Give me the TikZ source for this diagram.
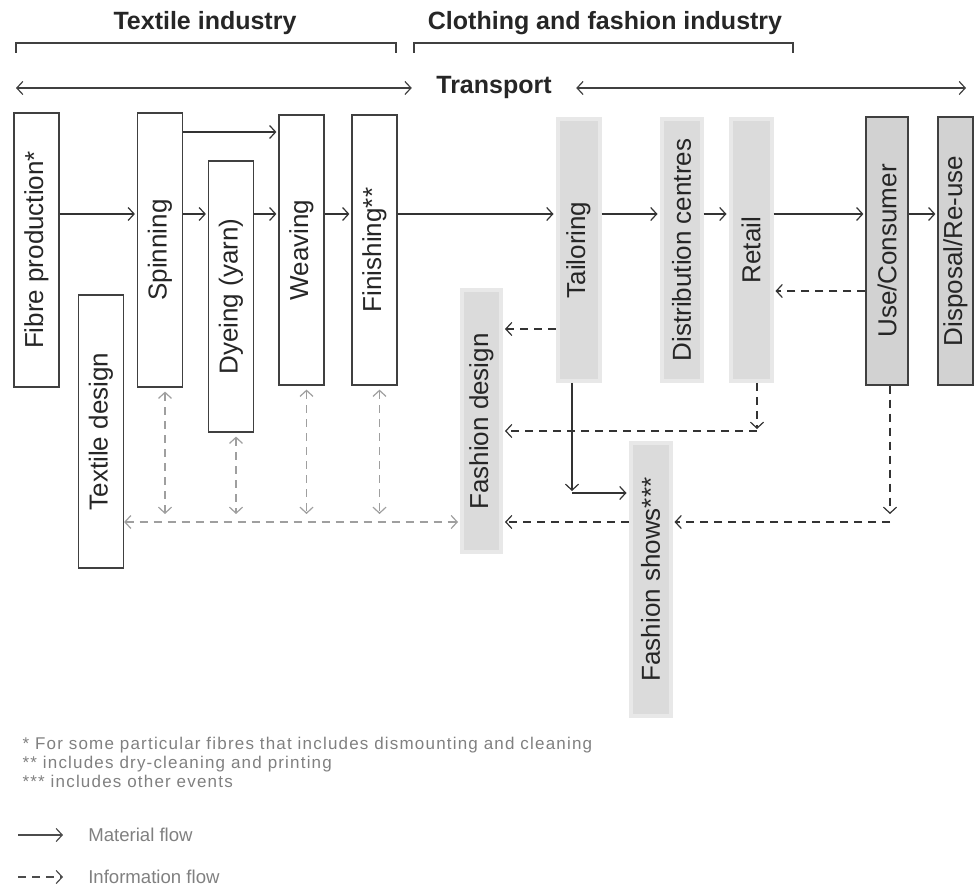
\documentclass[tikz,border=0pt]{standalone}
\usepackage{fontspec}
\setmainfont{Liberation Sans}
\newfontfamily\notefont[LetterSpace=7]{Liberation Sans}
\usetikzlibrary{arrows.meta,positioning}
\def\boxh{137pt}

\begin{document}
\begin{tikzpicture}[x=0.5pt,y=-0.5pt,line width=0.6pt,>={Straight Barb[length=3pt,width=6.5pt]}]
	\tikzstyle{stage}=[draw=black!75,fill=white,inner sep=0pt,text=black!85,font=\fontsize{13}{15}\selectfont]
	\tikzstyle{textile stage}=[stage,minimum width=22.5pt,minimum height=\boxh]
	\tikzstyle{fashion stage}=[stage,draw=gray!18,line width=2pt,fill=gray!28,minimum width=19.5pt,minimum height=131pt]
	\tikzstyle{user stage}=[stage,fill=gray!35,minimum width=21pt,minimum height=134pt]
	\tikzstyle{material}=[->,draw=black!80,shorten >=1pt]
	\tikzstyle{info}=[->,draw=black!80,dash pattern=on 4pt off 3pt,shorten >=1pt]
	\tikzstyle{info light}=[info,draw=gray!75]
	\tikzstyle{header}=[font=\bfseries\fontsize{12.5}{14}\selectfont,text=black!85]
	\tikzstyle{legend}=[anchor=west,text=gray,font=\fontsize{9.3}{11}\selectfont]

	\useasboundingbox (0,0) rectangle (974,886);

	% Industries and transport
	\node[header] (textile) at (205,23) {Textile industry};
	\node[header] (clothing) at (605,23) {Clothing and fashion industry};
	\draw[black!75] (16,53) -- (16,43) -- (396,43) -- (396,53);
	\draw[black!75] (414,53) -- (414,43) -- (793,43) -- (793,53);

	\node[header,inner xsep=12pt] (transport) at (494,88) {Transport};
	\coordinate (transL) at (16,88);
	\coordinate (transR) at (966,88);
	\draw[<->,black!75] (transL) -- (transport.west);
	\draw[<->,black!75] (transport.east) -- (transR);

	% Textile industry stages
	\node[textile stage] (fibre) at (36.5,250) {\rotatebox{90}{Fibre production*}};
	\node[textile stage,minimum height=136.5pt] (tdesign) at (101,431.5) {\rotatebox{90}{Textile design}};
	\node[textile stage] (spin) at (160,250) {\rotatebox{90}{Spinning}};
	\node[textile stage,minimum height=135.5pt] (dye) at (231,296.5) {\rotatebox{90}{Dyeing (yarn)}};
	\node[textile stage,minimum height=135pt] (weave) at (301.5,250) {\rotatebox{90}{Weaving}};
	\node[textile stage,minimum height=135pt] (finish) at (374.5,250) {\rotatebox{90}{Finishing**}};

	% Clothing and fashion stages
	\node[fashion stage] (fdesign) at (481.5,421.5) {\rotatebox{90}{Fashion design}};
	\node[fashion stage,minimum width=21pt] (tailor) at (578.5,250) {\rotatebox{90}{Tailoring}};
	\node[fashion stage,minimum width=20pt] (distrib) at (681.5,250) {\rotatebox{90}{Distribution centres}};
	\node[fashion stage,minimum width=20.5pt] (retail) at (751,250) {\rotatebox{90}{Retail}};
	\node[fashion stage,minimum width=20pt,minimum height=136pt] (fshows) at (650.5,579.5) {\rotatebox{90}{Fashion shows***}};
	\node[user stage] (consumer) at (887,251) {\rotatebox{90}{Use/Consumer}};
	\node[user stage,minimum width=17.5pt] (disposal) at (955.5,251) {\rotatebox{90}{Disposal/Re-use}};

	% Material flow
	\coordinate (mainrow) at (0,214);
	\coordinate (toprow) at (0,132);
	\foreach \from/\to in {fibre/spin,spin/dye,dye/weave,weave/finish,finish/tailor,tailor/distrib,distrib/retail,retail/consumer,consumer/disposal}
	\draw[material] (\from.east |- mainrow) -- (\to.west |- mainrow);
	\draw[material] (spin.east |- toprow) -- (weave.west |- toprow);

	\coordinate (tcorner) at (572,493);
	\draw[material] (tailor.south -| tcorner) -- (tcorner);
	\draw[material] (tcorner) -- (fshows.west |- tcorner);

	% Information flow
	\coordinate (designrow) at (0,329);
	\coordinate (userrow) at (0,291);
	\coordinate (lowrow) at (0,522);
	\draw[info] (tailor.west |- designrow) -- (fdesign.east |- designrow);
	\draw[info] (consumer.west |- userrow) -- (retail.east |- userrow);

	\coordinate (rcorner) at (757,431);
	\draw[info] (retail.south -| rcorner) -- (rcorner);
	\draw[info] (rcorner) -- (fdesign.east |- rcorner);

	\coordinate (ucorner) at (890,522);
	\draw[info,shorten >=4pt] (consumer.south -| ucorner) -- (ucorner);
	\draw[info] (ucorner) -- (fshows.east |- ucorner);
	\draw[info] (fshows.west |- lowrow) -- (fdesign.east |- lowrow);

	\draw[info light,<->] (tdesign.east |- lowrow) -- (fdesign.west |- lowrow);
	\foreach \n in {spin,dye,weave,finish}
	\draw[info light,<->,shorten <=2pt,shorten >=4pt] ([xshift=2.5pt]\n.south) -- ([xshift=2.5pt]\n.south |- lowrow);

	% Notes and legend
	\node[anchor=north west,align=left,inner sep=0pt,text=gray,font=\notefont\fontsize{8.5}{9.3}\selectfont] (notes) at (22,737)
	{* For some particular fibres that includes dismounting and cleaning\\
	** includes dry-cleaning and printing\\
	*** includes other events};

	\node[legend] (matlabel) at (81,835) {Material flow};
	\node[legend] (infolabel) at (81,877) {Information flow};
	\coordinate (matstart) at (18,835);
	\coordinate (infostart) at (18,877);
	\draw[material,black!70] (matstart) -- ([xshift=-8pt]matlabel.west);
	\draw[info,black!70] (infostart) -- ([xshift=-8pt]infolabel.west);
\end{tikzpicture}
\end{document}
